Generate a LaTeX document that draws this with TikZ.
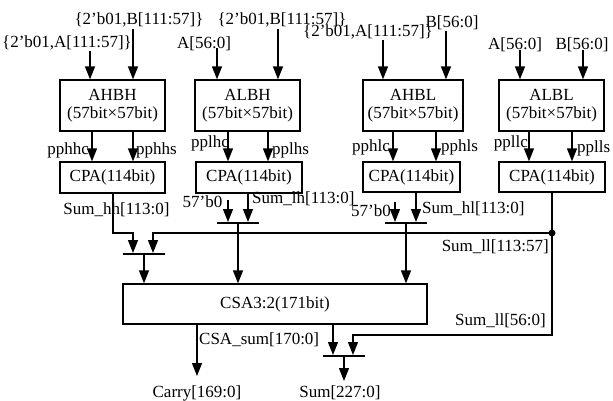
\documentclass[tikz,border=0pt]{standalone}
\usepackage{fontspec}
\setmainfont{Liberation Serif}
\usetikzlibrary{arrows.meta,calc}
\begin{document}
\begin{tikzpicture}[x=1pt,y=-1pt,
  every node/.style={font=\fontsize{17}{18}\selectfont, inner sep=0pt},
  box/.style={draw, line width=1.2pt, align=center},
  arr/.style={line width=1.3pt, -{Triangle[length=13pt,width=10pt]}},
  ln/.style={line width=1.3pt},
  bar/.style={line width=1.5pt}]
\useasboundingbox (0,0) rectangle (613,401);

% multiplier boxes
\node[box, minimum width=105, minimum height=51] (ahbh) at (112.5,105.5) {AHBH\\(57bit×57bit)};
\node[box, minimum width=105, minimum height=51] (albh) at (247.5,105.5) {ALBH\\(57bit×57bit)};
\node[box, minimum width=100, minimum height=51] (ahbl) at (413,105.5) {AHBL\\(57bit×57bit)};
\node[box, minimum width=105, minimum height=51] (albl) at (551.5,105.5) {ALBL\\(57bit×57bit)};

% CPA boxes
\node[box, minimum width=105, minimum height=31] (cpa1) at (112.5,177.5) {CPA(114bit)};
\node[box, minimum width=106, minimum height=31] (cpa2) at (249,177.5) {CPA(114bit)};
\node[box, minimum width=97, minimum height=30] (cpa3) at (411.5,177) {CPA(114bit)};
\node[box, minimum width=106, minimum height=30] (cpa4) at (552,177) {CPA(114bit)};

% CSA
\node[box, minimum width=304, minimum height=40] (csa) at (275,304) {CSA3:2(171bit)};

% input labels
\node (tb1) at (139,20) {\{2'b01,B[111:57]\}};
\node (ta1) at (67,43) {\{2'b01,A[111:57]\}};
\node (tb2) at (282,20) {\{2'b01,B[111:57]\}};
\node (ta2) at (204,44) {A[56:0]};
\node (ta3) at (368,32) {\{2'b01,A[111:57]\}};
\node (tb3) at (452,23) {B[56:0]};
\node (ta4) at (515,45) {A[56:0]};
\node (tb4) at (582,45) {B[56:0]};

% input arrows
\draw[arr] (90,51) -- (90,0 |- ahbh.north);
\draw[arr] (133,29) -- (133,0 |- ahbh.north);
\draw[arr] (217,48) -- (217,0 |- albh.north);
\draw[arr] (278,29) -- (278,0 |- albh.north);
\draw[arr] (383,40) -- (383,0 |- ahbl.north);
\draw[arr] (446,31) -- (446,0 |- ahbl.north);
\draw[arr] (520,50) -- (520,0 |- albl.north);
\draw[arr] (583,50) -- (583,0 |- albl.north);

% partial products
\draw[arr] (92,0 |- ahbh.south) -- (92,0 |- cpa1.north);
\draw[arr] (133,0 |- ahbh.south) -- (133,0 |- cpa1.north);
\draw[arr] (228,0 |- albh.south) -- (228,0 |- cpa2.north);
\draw[arr] (268,0 |- albh.south) -- (268,0 |- cpa2.north);
\draw[arr] (393,0 |- ahbl.south) -- (393,0 |- cpa3.north);
\draw[arr] (436,0 |- ahbl.south) -- (436,0 |- cpa3.north);
\draw[arr] (529,0 |- albl.south) -- (529,0 |- cpa4.north);
\draw[arr] (572,0 |- albl.south) -- (572,0 |- cpa4.north);

\node[anchor=east] (pphhc) at (89,150) {pphhc};
\node[anchor=west] (pphhs) at (136,150) {pphhs};
\node[anchor=east] (pplhc) at (229,143) {pplhc};
\node[anchor=west] (pplhs) at (272,150) {pplhs};
\node[anchor=east] (pphlc) at (390,147) {pphlc};
\node[anchor=west] (pphls) at (441,147) {pphls};
\node[anchor=east] (ppllc) at (528,143) {ppllc};
\node[anchor=west] (pplls) at (577,148) {pplls};

% merge bars
\coordinate (b1) at (144,254);
\coordinate (b2) at (238,223);
\coordinate (b3) at (406,223);
\coordinate (b4) at (344,356);
\draw[bar] ($(b1)+(-21,0)$) -- ($(b1)+(21,0)$);
\draw[bar] ($(b2)+(-21,0)$) -- ($(b2)+(21,0)$);
\draw[bar] ($(b3)+(-21,0)$) -- ($(b3)+(21,0)$);
\draw[bar] ($(b4)+(-21,0)$) -- ($(b4)+(21,0)$);

% sum outputs of CPAs
\draw[arr] (113,0 |- cpa1.south) -- (113,233) -- (133,233) -- (133,253);
\draw[arr] (228,200) -- (228,222);
\draw[arr] (248,0 |- cpa2.south) -- (248,222);
\draw[arr] (395,202) -- (395,222);
\draw[arr] (416,0 |- cpa3.south) -- (416,222);

\coordinate (dot) at (552,233);
\draw[arr] (552,0 |- cpa4.south) -- (552,335) -- (353,335) -- (353,355);
\draw[arr] (dot) -- (153,233) -- (153,253);
\fill (dot) circle (3.5);

% into CSA
\draw[arr] (b1) -- (b1 |- csa.north);
\draw[arr] (b2) -- (b2 |- csa.north);
\draw[arr] (b3) -- (b3 |- csa.north);

% CSA outputs
\coordinate (carryend) at (197,376);
\coordinate (sumend) at (344,381);
\draw[arr] (carryend |- csa.south) -- (carryend);
\draw[arr] (333,0 |- csa.south) -- (333,355);
\draw[arr] (b4) -- (sumend);

% signal labels
\node (shh) at (116.5,210) {Sum\_hh[113:0]};
\node (z1) at (202.5,202) {57'b0};
\node[anchor=west] (slh) at (252,199) {Sum\_lh[113:0]};
\node (z2) at (371,211) {57'b0};
\node[anchor=west] (shl) at (422,209) {Sum\_hl[113:0]};
\node[anchor=east] (sllh) at (549,247) {Sum\_ll[113:57]};
\node[anchor=east] (slll) at (546,321) {Sum\_ll[56:0]};
\node[anchor=west] (csasum) at (199,340) {CSA\_sum[170:0]};
\node (carry) at (197,393) {Carry[169:0]};
\node (sum) at (340,393) {Sum[227:0]};
\end{tikzpicture}
\end{document}
